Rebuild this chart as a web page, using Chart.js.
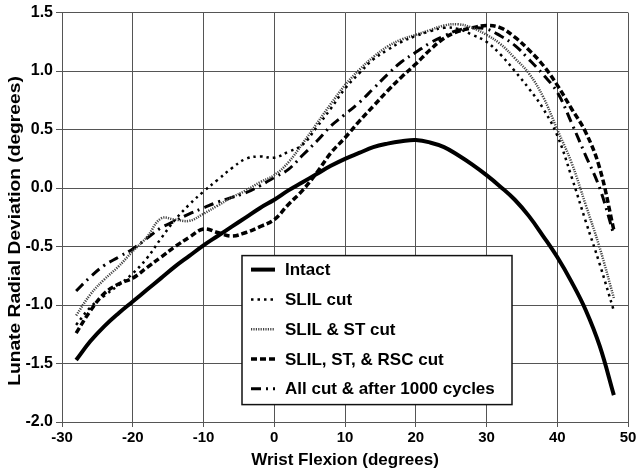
<!DOCTYPE html>
<html>
<head>
<meta charset="utf-8">
<script src="https://cdn.jsdelivr.net/npm/chart.js@4.4.1/dist/chart.umd.min.js"></script>
<style>
  html, body { margin: 0; padding: 0; background: #fff; }
</style>
</head>
<body>
<canvas id="chart" width="640" height="474"></canvas>
<script>
// Wrist flexion angle (degrees) - shared x samples for all curves
const flexion = [-28, -26, -24, -22, -20, -18, -16, -14, -12, -10, -8, -6, -4, -2, 0, 2, 4, 6, 8, 10,
    12, 14, 16, 18, 20, 22, 24, 26, 28, 30, 32, 34, 36, 38, 40, 42, 44, 46, 48];

// Lunate radial deviation (degrees) for each condition
const intact = [-1.47, -1.31, -1.18, -1.07, -0.97, -0.87, -0.77, -0.67, -0.58, -0.49, -0.41, -0.33, -0.25, -0.17, -0.10, -0.02, 0.05, 0.12, 0.19, 0.25,
    0.30, 0.35, 0.38, 0.40, 0.41, 0.39, 0.35, 0.28, 0.20, 0.11, 0.01, -0.10, -0.24, -0.41, -0.59, -0.80, -1.04, -1.35, -1.77];
const slilCut = [-1.17, -1.02, -0.92, -0.83, -0.73, -0.60, -0.43, -0.27, -0.14, -0.03, 0.07, 0.17, 0.25, 0.27, 0.26, 0.31, 0.37, 0.52, 0.68, 0.85,
    0.98, 1.10, 1.18, 1.25, 1.30, 1.34, 1.37, 1.36, 1.31, 1.25, 1.14, 1.00, 0.85, 0.68, 0.45, 0.10, -0.28, -0.65, -1.05];
const slilStCut = [-1.09, -0.91, -0.78, -0.67, -0.54, -0.42, -0.26, -0.27, -0.28, -0.22, -0.15, -0.08, -0.02, 0.05, 0.11, 0.22, 0.38, 0.55, 0.72, 0.88,
    1.01, 1.12, 1.21, 1.27, 1.31, 1.35, 1.39, 1.40, 1.37, 1.31, 1.23, 1.11, 0.98, 0.78, 0.50, 0.22, -0.14, -0.51, -0.94];
const rscCut = [-1.24, -1.05, -0.90, -0.82, -0.77, -0.68, -0.59, -0.50, -0.42, -0.35, -0.38, -0.41, -0.38, -0.33, -0.27, -0.14, -0.02, 0.13, 0.30, 0.43,
    0.57, 0.70, 0.83, 0.95, 1.06, 1.18, 1.28, 1.34, 1.37, 1.39, 1.37, 1.29, 1.18, 1.05, 0.88, 0.68, 0.48, 0.17, -0.36];
const allCut = [-0.88, -0.76, -0.66, -0.59, -0.52, -0.43, -0.34, -0.28, -0.22, -0.17, -0.12, -0.08, -0.04, 0.02, 0.09, 0.16, 0.28, 0.40, 0.53, 0.63,
    0.73, 0.85, 0.97, 1.08, 1.16, 1.24, 1.30, 1.35, 1.37, 1.36, 1.30, 1.22, 1.10, 0.97, 0.82, 0.56, 0.28, 0.00, -0.40];

const seriesLabels = ['Intact', 'SLIL cut', 'SLIL & ST cut', 'SLIL, ST, & RSC cut', 'All cut & after 1000 cycles'];

const FONT = '"Liberation Sans", Arial, sans-serif';

function points(values) {
    return flexion.map((x, i) => ({ x: x, y: values[i] }));
}

// legend box sits inside the plot, lower middle
const boxLegend = {
    id: 'boxLegend',
    afterDatasetsDraw(chart) {
        const ctx = chart.ctx;
        const ca = chart.chartArea;
        const left = ca.left + 180, top = ca.top + 243, w = 270, h = 149;
        ctx.save();
        ctx.fillStyle = '#fff';
        ctx.fillRect(left, top, w, h);
        ctx.strokeStyle = '#111';
        ctx.lineWidth = 1.5;
        ctx.strokeRect(left, top, w, h);
        ctx.font = 'bold 17px ' + FONT;
        ctx.textBaseline = 'middle';
        chart.data.datasets.forEach((ds, i) => {
            const y = top + 14 + i * 29.8;
            ctx.beginPath();
            ctx.setLineDash(ds.borderDash || []);
            ctx.lineWidth = ds.borderWidth;
            ctx.strokeStyle = ds.borderColor;
            ctx.moveTo(left + 9, y);
            ctx.lineTo(left + 33, y);
            ctx.stroke();
            ctx.setLineDash([]);
            ctx.fillStyle = '#000';
            ctx.fillText(ds.label, left + 43, y + 1);
        });
        ctx.restore();
    }
};

// y title drawn by hand (the scan is stretched vertically)
const yTitle = {
    id: 'yTitle',
    afterDraw(chart) {
        const ctx = chart.ctx;
        ctx.save();
        ctx.translate(15, 231);
        ctx.rotate(-Math.PI / 2);
        ctx.scale(1.13, 1);
        ctx.font = 'bold 17px ' + FONT;
        ctx.fillStyle = '#000';
        ctx.textAlign = 'center';
        ctx.textBaseline = 'middle';
        ctx.fillText('Lunate Radial Deviation (degrees)', 0, 0);
        ctx.restore();
    }
};

const wristChart = new Chart(document.getElementById('chart'), {
    type: 'line',
    data: {
        datasets: [{
            label: seriesLabels[0],
            data: points(intact),
            borderColor: '#000',
            borderWidth: 4
        }, {
            label: seriesLabels[1],
            data: points(slilCut),
            borderColor: '#000',
            borderWidth: 2.5,
            borderDash: [2.5, 4]
        }, {
            label: seriesLabels[2],
            data: points(slilStCut),
            borderColor: '#444',
            borderWidth: 2.5,
            borderDash: [1.2, 1.2]
        }, {
            label: seriesLabels[3],
            data: points(rscCut),
            borderColor: '#000',
            borderWidth: 3.5,
            borderDash: [6, 3]
        }, {
            label: seriesLabels[4],
            data: points(allCut),
            borderColor: '#000',
            borderWidth: 3,
            borderDash: [10, 5, 2, 5]
        }]
    },
    options: {
        responsive: false,
        animation: false,
        devicePixelRatio: 1,
        elements: {
            point: { radius: 0 },
            line: { tension: 0.4, borderCapStyle: 'butt' }
        },
        layout: { padding: { top: 10, right: 12, left: 0, bottom: 0 } },
        plugins: {
            legend: { display: false },
            tooltip: { enabled: false }
        },
        scales: {
            x: {
                type: 'linear',
                min: -30,
                max: 50,
                ticks: { stepSize: 10, color: '#000', padding: 2, font: { family: FONT, size: 15, weight: 'bold' } },
                grid: { color: '#555', lineWidth: 1, tickLength: 5, tickColor: '#555' },
                border: { color: '#555' },
                title: {
                    display: true,
                    text: 'Wrist Flexion (degrees)',
                    color: '#000',
                    padding: { top: 0, bottom: 3 },
                    font: { family: FONT, size: 17, weight: 'bold' }
                },
                afterFit(scale) { scale.height = 52; }
            },
            y: {
                min: -2,
                max: 1.5,
                ticks: {
                    stepSize: 0.5,
                    color: '#000',
                    padding: 3,
                    font: { family: FONT, size: 16, weight: 'bold' },
                    callback: (v) => v.toFixed(1)
                },
                grid: { color: '#555', lineWidth: 1, tickLength: 6, tickColor: '#555' },
                border: { color: '#555' },
                afterFit(scale) { scale.width = 62; }
            }
        }
    },
    plugins: [boxLegend, yTitle]
});
</script>
</body>
</html>
